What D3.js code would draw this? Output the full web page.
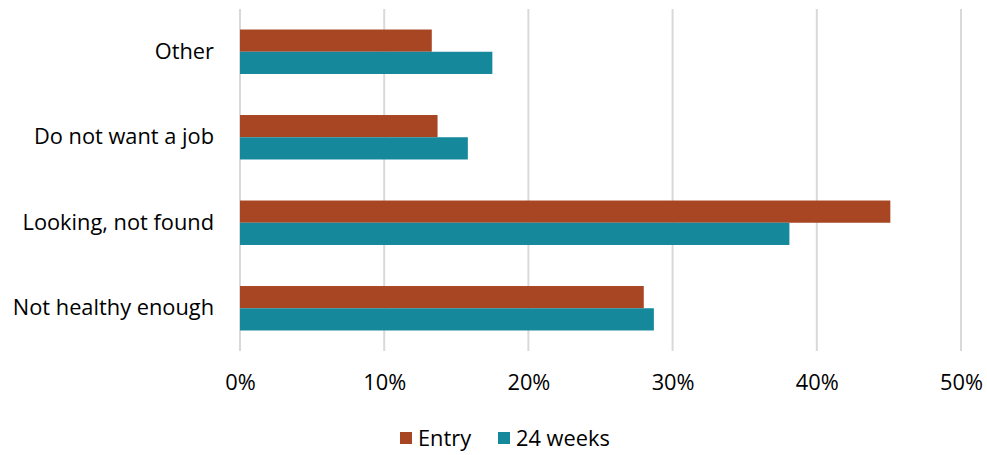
<!DOCTYPE html>
<html>
<head>
<meta charset="utf-8">
<script src="https://cdn.jsdelivr.net/npm/d3@7"></script>
<style>
  html, body { margin: 0; padding: 0; background: #fff; }
  svg { display: block; }
  text { font-family: "Open Sans", sans-serif; fill: #000; }
</style>
</head>
<body>
<svg id="chart" width="987" height="455"></svg>
<script>
// Reasons for not working, share of respondents at entry and at 24 weeks
const categories = ["Other", "Do not want a job", "Looking, not found", "Not healthy enough"];
const seriesNames = ["Entry", "24 weeks"];
const entryValues = [13.3, 13.7, 45.1, 28.0];
const week24Values = [17.5, 15.8, 38.1, 28.7];
const tickValues = [0, 10, 20, 30, 40, 50];
const colors = ["#A84624", "#15899B"];

const seriesValues = [entryValues, week24Values];
const rows = categories.map((c, i) => ({
  category: c,
  values: seriesValues.map((vals, s) => ({ series: seriesNames[s], value: vals[i], idx: s }))
}));

const svg = d3.select("#chart");
const margin = { left: 240, right: 26, top: 9, bottom: 104 };
const width = 987 - margin.left - margin.right;
const height = 455 - margin.top - margin.bottom;
const fontFamily = "'Open Sans', sans-serif";
const fontSize = 21.8;

const x = d3.scaleLinear().domain([0, 50]).range([0, width]);
const y = d3.scaleBand().domain(categories).range([0, height]).paddingInner(0.48).paddingOuter(0.24);
const ySub = d3.scaleBand().domain(seriesNames).range([0, y.bandwidth()]);

const g = svg.append("g").attr("transform", `translate(${margin.left},${margin.top})`);

// vertical gridlines
g.append("g")
  .selectAll("line")
  .data(tickValues)
  .join("line")
  .attr("x1", d => x(d)).attr("x2", d => x(d))
  .attr("y1", 0).attr("y2", height)
  .attr("stroke", "#D9D9D9")
  .attr("stroke-width", 2);

// bars
const groups = g.append("g")
  .selectAll("g")
  .data(rows)
  .join("g")
  .attr("transform", d => `translate(0,${y(d.category)})`);

groups.selectAll("rect")
  .data(d => d.values)
  .join("rect")
  .attr("x", x(0))
  .attr("y", d => ySub(d.series))
  .attr("width", d => x(d.value) - x(0))
  .attr("height", ySub.bandwidth())
  .attr("fill", d => colors[d.idx]);

// x axis labels
const xAxis = d3.axisBottom(x)
  .tickValues(tickValues)
  .tickFormat(d => d + "%")
  .tickSize(0)
  .tickPadding(0);
const xg = g.append("g").attr("transform", `translate(0,${height + 24})`).call(xAxis);
xg.select(".domain").remove();
xg.selectAll("text").attr("font-size", fontSize).attr("font-family", fontFamily).attr("fill", "#000");

// y axis labels
const yAxis = d3.axisLeft(y).tickSize(0).tickPadding(26);
const yg = g.append("g").call(yAxis);
yg.select(".domain").remove();
yg.selectAll("text").attr("font-size", fontSize).attr("font-family", fontFamily).attr("fill", "#000");

// legend
const legend = svg.append("g").attr("transform", "translate(400,438)");
const legendX = [0, 98];
const items = legend.selectAll("g")
  .data(seriesNames)
  .join("g")
  .attr("transform", (d, i) => `translate(${legendX[i]},0)`);
items.append("rect")
  .attr("x", 0).attr("y", -6)
  .attr("width", 12).attr("height", 12)
  .attr("fill", (d, i) => colors[i]);
items.append("text")
  .attr("x", 18).attr("y", 0)
  .attr("dy", "0.35em")
  .attr("font-size", fontSize)
  .text(d => d);
</script>
</body>
</html>
